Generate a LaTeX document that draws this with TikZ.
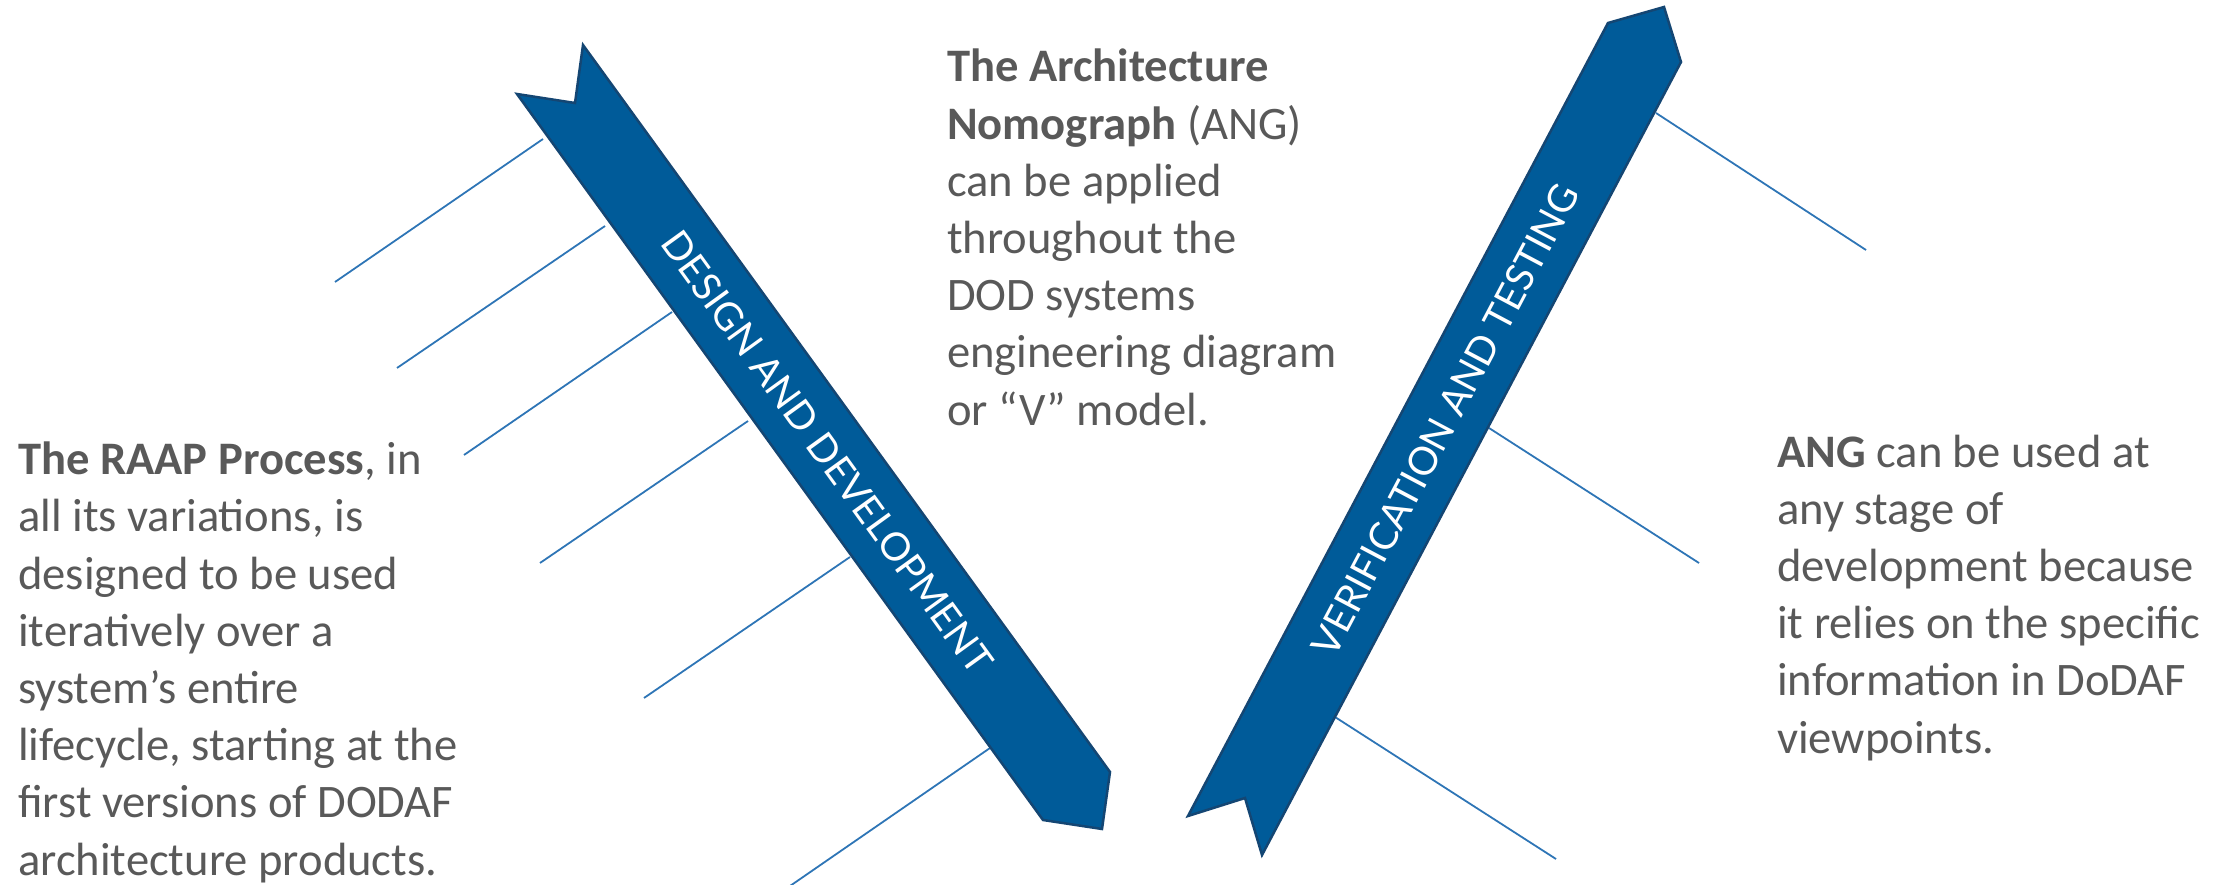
\documentclass[tikz,border=0pt]{standalone}
\usepackage{fontspec}
\setmainfont{Carlito}
\newfontfamily\bandfont{Lato}
\definecolor{bandblue}{RGB}{0,91,153}
\definecolor{banddark}{RGB}{20,70,115}
\definecolor{tickblue}{RGB}{46,117,182}
\definecolor{textgray}{RGB}{89,89,89}

\begin{document}
\begin{tikzpicture}[x=1pt,y=-1pt,
	band/.style={fill=bandblue,draw=banddark,line width=2.5pt,line join=miter},
	tick/.style={draw=tickblue,line width=1.8pt},
	note/.style={anchor=base west,align=left,inner sep=0pt,text=textgray,font=\fontsize{46.6}{57.2}\selectfont},
	bandlabel/.style={text=white,inner sep=0pt,font=\bandfont\fontsize{39}{39}\selectfont}]
	\useasboundingbox (0,0) rectangle (2239,885);
	% Striche links
	\foreach \i/\xa/\ya/\xb/\yb in {1/543/139/335/282, 2/605/226/397/368, 3/672/312/464/455,
		4/748/421/540/563, 5/850/557/644/698, 6/990/748/790/886}
	{
		\coordinate (dd\i) at (\xa,\ya);
		\coordinate (dd\i end) at (\xb,\yb);
		\draw[tick] (dd\i) -- (dd\i end);
	}
	% Striche rechts
	\foreach \i/\xa/\ya/\xb/\yb in {1/1656/113/1866/250, 2/1489/428/1699/563, 3/1335/717/1556/859}
	{
		\coordinate (vt\i) at (\xa,\ya);
		\coordinate (vt\i end) at (\xb,\yb);
		\draw[tick] (vt\i) -- (vt\i end);
	}
	% Baender
	\draw[band] (517,94) -- (575,103) -- (583,45) -- (1110,772) -- (1102,829) -- (1043,820) -- cycle;
	\draw[band] (1188,816) -- (1245,798) -- (1262,855) -- (1681,62) -- (1664,7) -- (1608,23) -- cycle;
	\node[bandlabel, rotate=-54.1] (design) at (827,452) {DESIGN AND DEVELOPMENT};
	\node[bandlabel, rotate=62.1] (verif) at (1445,420) {VERIFICATION AND TESTING};
	% Texte (Anker auf der letzten Zeile)
	\node[note] (raap) at (18,875) {\textbf{The RAAP Process}, in\\all its variations, is\\designed to be used\\iteratively over a\\system’s entire\\lifecycle, starting at the\\first versions of DODAF\\architecture products.};
	\node[note] (nomo) at (947,425) {\textbf{The Architecture}\\\textbf{Nomograph} (ANG)\\can be applied\\throughout the\\DOD systems\\engineering diagram\\or “V” model.};
	\node[note] (ang) at (1777,753) {\textbf{ANG} can be used at\\any stage of\\development because\\it relies on the specific\\information in DoDAF\\viewpoints.};
\end{tikzpicture}
\end{document}
